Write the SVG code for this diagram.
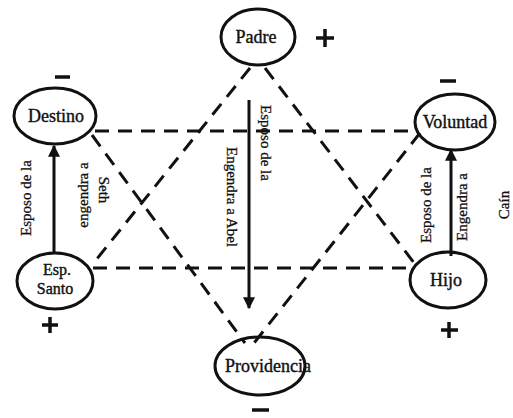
<svg xmlns="http://www.w3.org/2000/svg" width="513" height="418" viewBox="0 0 513 418">
<defs>
<style>
.node{fill:none;stroke:#111;stroke-width:3}
.lbl{font-family:"Liberation Serif",serif;font-size:18px;fill:#111;text-anchor:middle;stroke:#111;stroke-width:0.4}
.lbl2{font-size:16px}
.sm{font-family:"Liberation Serif",serif;font-size:15px;fill:#111;text-anchor:middle;stroke:#111;stroke-width:0.3}
.sign{stroke:#111;stroke-width:3.5;fill:none}
.dash{stroke:#111;stroke-width:3;stroke-dasharray:14,9;fill:none}
.arr{stroke:#111;stroke-width:3;fill:none;marker-end:url(#ah)}
</style>
<marker id="ah" viewBox="0 0 10 10" refX="9" refY="5" markerWidth="4" markerHeight="5" orient="auto" markerUnits="strokeWidth">
<path d="M0,0 L10,5 L0,10 z" fill="#111"/>
</marker>
</defs>
<rect width="513" height="418" fill="#fff"/>
<g id="connectors">
<line class="dash" x1="95" y1="131" x2="415" y2="131"/>
<line class="dash" x1="93" y1="268" x2="412" y2="268"/>
<line class="dash" x1="250" y1="68" x2="92" y2="265"/>
<line class="dash" x1="265" y1="68" x2="418" y2="268"/>
<line class="dash" x1="92" y1="135" x2="245" y2="343"/>
<line class="dash" x1="420" y1="133" x2="254" y2="343"/>
<line class="arr" x1="54" y1="254" x2="54" y2="146"/>
<line class="arr" x1="249" y1="100" x2="249" y2="308"/>
<line class="arr" x1="451" y1="256" x2="451" y2="150"/>
<text class="sm" transform="translate(31,198) rotate(-90)">Esposo de la</text>
<text class="sm" transform="translate(88,195) rotate(-90)">engendra a</text>
<text class="sm" transform="translate(99,190) rotate(90)">Seth</text>
<text class="sm" transform="translate(261,143) rotate(90)">Esposo de la</text>
<text class="sm" transform="translate(227,197) rotate(90)">Engendra a Abel</text>
<text class="sm" transform="translate(431,205) rotate(-90)">Esposo de la</text>
<text class="sm" transform="translate(467,207) rotate(-90)">Engendra a</text>
<text class="sm" transform="translate(509,205) rotate(-90)">Caín</text>
</g>
<g id="padre">
<ellipse class="node" cx="258" cy="37" rx="37" ry="28"/>
<text class="lbl" x="256" y="43">Padre</text>
<path class="sign" d="M316,38 H334 M325,29 V47"/>
</g>
<g id="destino">
<ellipse class="node" cx="55" cy="116" rx="41" ry="28"/>
<text class="lbl" x="56" y="122">Destino</text>
<path class="sign" d="M55,77 H70"/>
</g>
<g id="voluntad">
<ellipse class="node" cx="455" cy="122" rx="40" ry="28"/>
<text class="lbl" x="455" y="128">Voluntad</text>
<path class="sign" d="M440,81 H456"/>
</g>
<g id="esp-santo">
<ellipse class="node" cx="55" cy="281" rx="38" ry="28"/>
<text class="lbl lbl2" x="57" y="275">Esp.</text>
<text class="lbl lbl2" x="55" y="294">Santo</text>
<path class="sign" d="M42,325 H58 M50,317 V333"/>
</g>
<g id="hijo">
<ellipse class="node" cx="448" cy="280" rx="38" ry="28"/>
<text class="lbl" x="446" y="286">Hijo</text>
<path class="sign" d="M441,330 H458 M449,322 V338"/>
</g>
<g id="providencia">
<ellipse class="node" cx="260" cy="366" rx="45" ry="29"/>
<text class="lbl" x="268" y="372">Providencia</text>
<path class="sign" d="M252,410 H269"/>
</g>
</svg>
